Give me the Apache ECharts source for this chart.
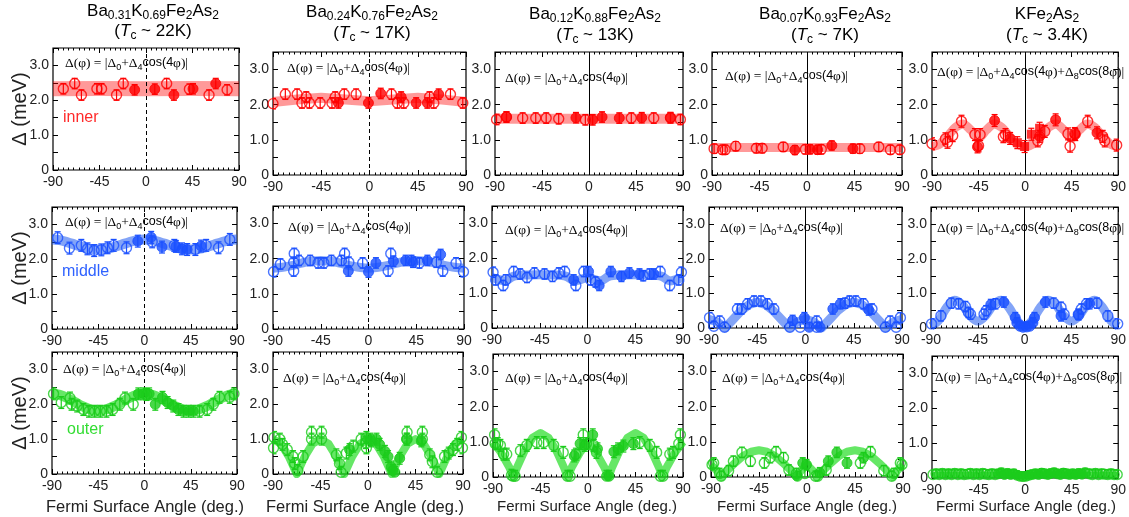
<!DOCTYPE html>
<html>
<head>
<meta charset="utf-8">
<script src="https://cdn.jsdelivr.net/npm/echarts@6/dist/echarts.min.js"></script>
<style>
  html, body { margin: 0; padding: 0; background: #fff; }
  #chart { width: 1129px; height: 517px; }
</style>
</head>
<body>
<div id="chart"></div>
<script>
// tick labels
const ANGLE_TICKS = [-90, -45, 0, 45, 90];
const GAP_LABELS = [0, 1.0, 2.0, 3.0];

// column headers
const TITLE_SUBS = [['0.31', '0.69'], ['0.24', '0.76'], ['0.12', '0.88'], ['0.07', '0.93'], null];
const TC = ['22K', '17K', '13K', '7K', '3.4K'];
const ROWS = ['inner', 'middle', 'outer'];

// ---- inner (red) ----
const p11Open = [[-80, 2.33], [-69, 2.48], [-62.5, 2.15], [-47.5, 2.33], [-43, 2.33], [-28.5, 2.15], [-22, 2.48], [20, 2.48], [42, 2.32], [61, 2.15], [78.5, 2.3]];
const p11Fill = [[-11, 2.3], [8.5, 2.32], [27, 2.15], [45.5, 2.33], [67.5, 2.48]];
const p11Fit = [[-90, 2.33], [-45, 2.34], [0, 2.33], [45, 2.34], [90, 2.33]];

const p12Open = [[-90, 2.03], [-78.5, 2.3], [-67.5, 2.3], [-63, 2.05], [-59, 2.22], [-56, 2.05], [-46, 2.05], [-35, 2.05], [-32, 2.22], [-23.5, 2.3], [-12.5, 2.3], [20.5, 2.3], [26, 2.05], [32, 2.05], [56, 2.22], [60, 2.05], [75.5, 2.3], [87, 2.05]];
const p12Fill = [[-29, 2.05], [-1, 2.05], [10.5, 2.32], [29.5, 2.22], [43.5, 2.05], [54, 2.05], [64.5, 2.3]];
const p12Fit = [[-90, 2.08], [-67.5, 2.15], [-45, 2.2], [-22.5, 2.15], [0, 2.1], [22.5, 2.15], [45, 2.2], [67.5, 2.15], [90, 2.08]];

const p13Open = [[-88.5, 1.58], [-79, 1.65], [-63.5, 1.62], [-51, 1.62], [-41, 1.62], [-29, 1.6], [-3.5, 1.57], [40.5, 1.62], [62, 1.62], [78, 1.63], [87.5, 1.58]];
const p13Fill = [[-79, 1.65], [-12.5, 1.63], [3.5, 1.57], [12.5, 1.65], [29, 1.62], [50.5, 1.63], [78, 1.63]];
const p13Fit = [[-90, 1.6], [0, 1.6], [90, 1.6]];

const p14Open = [[-88, 0.75], [-80, 0.72], [-77.5, 0.72], [-67.5, 0.82], [-48, 0.76], [-42.5, 0.76], [-22.5, 0.8], [-1.5, 0.73], [13.5, 0.73], [50, 0.75], [68, 0.8], [79, 0.72], [88, 0.72]];
const p14Fill = [[-11.5, 0.71], [3, 0.73], [10, 0.72], [23.5, 0.84], [43.5, 0.75]];
const p14Fit = [[-90, 0.78], [0, 0.78], [90, 0.78]];

const p15Open = [[-90, 0.89], [-77, 1.03], [-75, 0.93], [-70, 1.12], [-61.5, 1.53], [-48.5, 1.15], [-45, 0.83], [-43.5, 1.15], [-21, 1.09], [-19, 1.15], [12.3, 0.97], [19, 1.24], [41.5, 1.17], [43.5, 0.82], [48, 1.18], [60.5, 1.53], [75, 1.1], [77, 0.97], [88.5, 0.85]];
const p15Fill = [[-46, 0.8], [-29.5, 1.55], [-14.5, 1.04], [14, 1.1], [29.5, 1.57], [48.5, 1.15], [69.5, 1.2]];
const p15Square = [[-7.5, 0.92], [-0.5, 0.81], [6, 1.16], [14, 1.33]];
const p15Fit = [[-90, 0.8], [-82.5, 0.88], [-75, 1.1], [-67.5, 1.35], [-60, 1.45], [-52.5, 1.28], [-45, 1.05], [-37.5, 1.28], [-30, 1.45], [-22.5, 1.35], [-15, 1.1], [-7.5, 0.88], [0, 0.8], [7.5, 0.88], [15, 1.1], [22.5, 1.35], [30, 1.45], [37.5, 1.28], [45, 1.05], [52.5, 1.28], [60, 1.45], [67.5, 1.35], [75, 1.1], [82.5, 0.88], [90, 0.8]];

// ---- middle (blue) ----
const p21Open = [[-84.5, 2.62], [-73, 2.32], [-61.5, 2.4], [-55.5, 2.3], [-49, 2.25], [-42, 2.27], [-36, 2.33], [-30, 2.4], [-17.5, 2.33], [7.5, 2.5], [29, 2.4], [49.5, 2.28], [60, 2.4], [72, 2.33], [83, 2.57]];
const p21Fill = [[-6.5, 2.52], [6.5, 2.63], [17, 2.35], [30.5, 2.37], [36.5, 2.3], [41.5, 2.28], [55, 2.38]];
const p21Fit = [[-90, 2.57], [-82.5, 2.55], [-75, 2.49], [-67.5, 2.42], [-60, 2.35], [-52.5, 2.3], [-45, 2.28], [-37.5, 2.3], [-30, 2.35], [-22.5, 2.42], [-15, 2.49], [-7.5, 2.55], [0, 2.57], [7.5, 2.55], [15, 2.49], [22.5, 2.42], [30, 2.35], [37.5, 2.3], [45, 2.28], [52.5, 2.3], [60, 2.35], [67.5, 2.42], [75, 2.49], [82.5, 2.55], [90, 2.57]];

const p22Open = [[-89.5, 1.63], [-83, 1.85], [-70.5, 1.65], [-70.5, 1.9], [-70, 2.15], [-65.5, 1.95], [-55, 1.95], [-47.5, 1.88], [-42, 1.88], [-35, 1.95], [-25.5, 1.95], [-22.5, 2.15], [-18.5, 1.9], [-5.5, 1.88], [18.5, 1.65], [21, 2.15], [40.5, 1.95], [48, 1.88], [64, 1.9], [70, 1.65], [82.5, 1.88], [89.5, 1.63]];
const p22Fill = [[-19, 1.65], [0, 1.62], [7, 1.88], [23.5, 1.93], [35, 1.95], [42, 1.9], [55.5, 1.95], [68, 2.12]];
const p22Fit = [[-90, 1.73], [-82.5, 1.75], [-75, 1.79], [-67.5, 1.84], [-60, 1.9], [-52.5, 1.93], [-45, 1.95], [-37.5, 1.93], [-30, 1.9], [-22.5, 1.84], [-15, 1.79], [-7.5, 1.75], [0, 1.73], [7.5, 1.75], [15, 1.79], [22.5, 1.84], [30, 1.9], [37.5, 1.93], [45, 1.95], [52.5, 1.93], [60, 1.9], [67.5, 1.84], [75, 1.79], [82.5, 1.75], [90, 1.73]];

const p23Open = [[-89, 1.6], [-86.5, 1.38], [-79.5, 1.22], [-77, 1.38], [-69.5, 1.62], [-63.5, 1.55], [-57, 1.45], [-50, 1.58], [-40.5, 1.55], [-33, 1.48], [-27, 1.58], [-21.5, 1.62], [-11, 1.22], [-3.5, 1.62], [3, 1.38], [7.5, 1.32], [52.5, 1.5], [58.5, 1.55], [68.5, 1.62], [77.5, 1.22], [86, 1.38], [88.5, 1.6]];
const p23Fill = [[-13, 1.38], [1, 1.62], [11, 1.22], [22, 1.62], [32, 1.48], [39.5, 1.58], [49, 1.55], [62.5, 1.55]];
const p23Fit = [[-90, 1.45], [-82.5, 1.38], [-77.5, 1.35], [-70, 1.48], [-60, 1.52], [-45, 1.53], [-30, 1.52], [-20, 1.48], [-12.5, 1.35], [-7.5, 1.38], [0, 1.45], [7.5, 1.38], [12.5, 1.35], [20, 1.48], [30, 1.52], [45, 1.53], [60, 1.52], [70, 1.48], [77.5, 1.35], [82.5, 1.38], [90, 1.45]];

const p24Open = [[-89.5, 0.3], [-85.5, 0.05], [-80, 0.2], [-75.5, 0.02], [-63.5, 0.55], [-59.5, 0.55], [-54, 0.7], [-48, 0.78], [-41.5, 0.78], [-35.5, 0.7], [-29.5, 0.55], [-14.5, 0.02], [-5, 0.02], [10.5, 0.2], [10.5, 0.02], [37, 0.72], [41, 0.78], [47, 0.78], [54, 0.7], [62, 0.55], [74.5, 0.02], [79, 0.2], [84.5, 0.02], [88.5, 0.3]];
const p24Fill = [[-12, 0.22], [-1, 0.3], [3.5, 0.02], [13.5, 0.02], [25.5, 0.55], [32.5, 0.7], [59, 0.52]];
const p24Fit = [[-90, 0.25], [-82.5, 0.18], [-75, 0], [-67.5, 0.25], [-60, 0.5], [-52.5, 0.68], [-45, 0.75], [-37.5, 0.68], [-30, 0.5], [-22.5, 0.25], [-15, 0], [-7.5, 0.18], [0, 0.25], [7.5, 0.18], [15, 0], [22.5, 0.25], [30, 0.5], [37.5, 0.68], [45, 0.75], [52.5, 0.68], [60, 0.5], [67.5, 0.25], [75, 0], [82.5, 0.18], [90, 0.25]];

const p25Open = [[-89.5, 0.12], [-80.5, 0.35], [-70.5, 0.72], [-63.5, 0.7], [-57, 0.62], [-54, 0.45], [-52, 0.4], [-39, 0.4], [-37, 0.5], [-28, 0.7], [28, 0.72], [35, 0.6], [38, 0.4], [52, 0.38], [54.5, 0.55], [59.5, 0.7], [69.5, 0.72], [80, 0.35], [89.5, 0.12]];
const p25Fill = [[-32.5, 0.68], [-20, 0.75], [-9, 0.3], [-7.5, 0.15], [-4.5, 0.05], [-1.5, 0.02], [2, 0.03], [5, 0.05], [8, 0.15], [9.5, 0.3], [20, 0.75], [35, 0.35], [51.5, 0.4], [62.5, 0.7]];
const p25Fit = [[-90, 0.05], [-82.5, 0.23], [-75, 0.59], [-67.5, 0.8], [-60, 0.67], [-52.5, 0.36], [-45, 0.2], [-37.5, 0.36], [-30, 0.67], [-22.5, 0.8], [-15, 0.59], [-7.5, 0.23], [0, 0.05], [7.5, 0.23], [15, 0.59], [22.5, 0.8], [30, 0.67], [37.5, 0.36], [45, 0.2], [52.5, 0.36], [60, 0.67], [67.5, 0.8], [75, 0.59], [82.5, 0.23], [90, 0.05]];

// ---- outer (green) ----
const p31Open = [[-88.5, 2.3], [-81, 2.05], [-72.5, 2.18], [-71, 2.0], [-65.5, 1.95], [-59.5, 1.85], [-54, 1.8], [-48.5, 1.8], [-43, 1.8], [-37, 1.8], [-31, 1.85], [-24, 2.0], [-19, 2.18], [-11, 2.0], [2, 2.28], [53.5, 1.8], [61, 1.85], [67, 2.0], [73, 2.2], [83, 2.2], [87, 2.3]];
const p31Fill = [[-6, 2.3], [-1, 2.3], [4.5, 2.3], [10.5, 2.0], [17.5, 2.2], [22.5, 2.05], [28, 1.95], [33, 1.85], [38, 1.8], [43, 1.8], [47.5, 1.8]];
const p31Fit = [[-90, 2.3], [-82.5, 2.27], [-75, 2.18], [-67.5, 2.06], [-60, 1.94], [-52.5, 1.85], [-45, 1.82], [-37.5, 1.85], [-30, 1.94], [-22.5, 2.06], [-15, 2.18], [-7.5, 2.27], [0, 2.3], [7.5, 2.27], [15, 2.18], [22.5, 2.06], [30, 1.94], [37.5, 1.85], [45, 1.82], [52.5, 1.85], [60, 1.94], [67.5, 2.06], [75, 2.18], [82.5, 2.27], [90, 2.3]];

const p32Open = [[-89.5, 0.75], [-89, 1.05], [-83.5, 1.0], [-81, 0.85], [-76.5, 0.7], [-71, 0.5], [-69.5, 0.3], [-66.5, 0.1], [-61.5, 0.5], [-53.5, 1.2], [-53.5, 1.0], [-44, 1.2], [-44, 1.0], [-30, 0.55], [-27, 0.3], [-25.5, 0.05], [-20.5, 0.6], [-14, 0.8], [-6.5, 1.0], [-2, 0.9], [-1.5, 0.75], [2, 1.0], [37, 1.2], [37, 1.0], [51.5, 1.2], [51.5, 1.0], [58.5, 0.55], [61, 0.35], [65.5, 0.05], [72.5, 0.5], [76.5, 0.6], [80.5, 0.7], [84.5, 0.85], [88.5, 1.05], [89.5, 0.75]];
const p32Fill = [[-17.5, 0.7], [-1.5, 1.05], [3, 0.95], [8, 1.0], [11, 0.85], [16, 0.65], [19, 0.5], [22, 0.2], [23.5, 0.1], [25.5, 0.05], [30, 0.45], [36.5, 1.0], [50.5, 0.95]];
const p32Fit = [[-90, 1.0], [-82.5, 0.87], [-75, 0.5], [-67.5, 0], [-60, 0.5], [-52.5, 0.87], [-45, 1.0], [-37.5, 0.87], [-30, 0.5], [-22.5, 0], [-15, 0.5], [-7.5, 0.87], [0, 1.0], [7.5, 0.87], [15, 0.5], [22.5, 0], [30, 0.5], [37.5, 0.87], [45, 1.0], [52.5, 0.87], [60, 0.5], [67.5, 0], [75, 0.5], [82.5, 0.87], [90, 1.0]];

const p33Open = [[-88.5, 1.2], [-88, 0.95], [-85.5, 0.95], [-83, 0.9], [-80, 0.65], [-77, 0.65], [-72.5, 0.05], [-71, 0.02], [-69, 0.02], [-64, 0.75], [-58, 0.9], [-48.5, 0.98], [-42, 0.98], [-32.5, 0.9], [-23.5, 0.7], [-19.5, 0.02], [-17, 0.02], [-11.5, 0.65], [-4.5, 1.2], [-1.5, 0.95], [5.5, 0.9], [8, 0.7], [49, 0.98], [58.5, 0.9], [65, 0.7], [68.5, 0.02], [71, 0.02], [77.5, 0.65], [80.5, 0.7], [86, 0.95], [87.5, 1.2]];
const p33Fill = [[-13, 0.6], [-7.5, 0.95], [-3, 0.9], [4.5, 1.2], [9, 0.8], [17.5, 0.02], [20, 0.02], [24.5, 0.72], [28.5, 0.8], [33.5, 0.88], [43, 0.95]];
const p33Fit = [[-90, 1.0], [-82.5, 0.7], [-75, 0.3], [-70.5, 0], [-67.5, 0.25], [-60, 0.75], [-52.5, 1.12], [-45, 1.25], [-37.5, 1.12], [-30, 0.75], [-22.5, 0.25], [-19.5, 0], [-15, 0.3], [-7.5, 0.7], [0, 1.0], [7.5, 0.7], [15, 0.3], [19.5, 0], [22.5, 0.25], [30, 0.75], [37.5, 1.12], [45, 1.25], [52.5, 1.12], [60, 0.75], [67.5, 0.25], [70.5, 0], [75, 0.3], [82.5, 0.7], [90, 1.0]];

const p34Open = [[-89, 0.35], [-87.5, 0.4], [-82, 0.1], [-80.5, 0.02], [-73.5, 0.18], [-69, 0.45], [-61, 0.7], [-53, 0.45], [-40, 0.4], [-34.5, 0.55], [-29, 0.72], [-22, 0.55], [-17, 0.2], [-10, 0.1], [-2, 0.1], [8, 0.02], [10, 0.02], [18, 0.2], [50, 0.4], [59.5, 0.72], [72, 0.18], [79.5, 0.02], [81.5, 0.1], [87.5, 0.4], [89, 0.35]];
const p34Fill = [[-9, 0.02], [-4, 0.4], [-0.5, 0.35], [12, 0.12], [20, 0.45], [28, 0.7], [37.5, 0.4], [53, 0.55]];
const p34Fit = [[-90, 0.35], [-82.5, 0.12], [-80, 0], [-75, 0.18], [-67.5, 0.4], [-60, 0.6], [-52.5, 0.72], [-45, 0.76], [-37.5, 0.72], [-30, 0.6], [-22.5, 0.4], [-15, 0.18], [-10, 0], [-7.5, 0.12], [0, 0.35], [7.5, 0.12], [10, 0], [15, 0.18], [22.5, 0.4], [30, 0.6], [37.5, 0.72], [45, 0.76], [52.5, 0.72], [60, 0.6], [67.5, 0.4], [75, 0.18], [80, 0], [82.5, 0.12], [90, 0.35]];

const p35Open = [[-89, 0.1], [-86, 0.12], [-83, 0.1], [-80, 0.13], [-77, 0.1], [-74, 0.12], [-71, 0.1], [-68, 0.13], [-65, 0.1], [-62, 0.12], [-59, 0.1], [-56, 0.11], [-53, 0.13], [-50, 0.1], [-47, 0.12], [-44, 0.1], [-41, 0.13], [-38, 0.11], [-35, 0.1], [-32, 0.12], [-29, 0.1], [62, 0.12], [65, 0.1], [68, 0.13], [71, 0.1], [74, 0.12], [77, 0.11], [80, 0.1], [83, 0.12], [86, 0.1], [89, 0.1]];
const p35Fill = [[-26, 0.12], [-23, 0.15], [-20, 0.1], [-17, 0.13], [-14, 0.1], [-11, 0.12], [-8, 0.08], [-5, 0.05], [-2, 0.04], [1, 0.05], [4, 0.08], [7, 0.1], [10, 0.12], [13, 0.1], [16, 0.14], [19, 0.12], [22, 0.1], [25, 0.13], [28, 0.15], [31, 0.12], [34, 0.1], [37, 0.14], [40, 0.12], [43, 0.1], [46, 0.12], [49, 0.1], [52, 0.13], [55, 0.11], [58, 0.15]];
const p35Fit = [[-90, 0.1], [0, 0.1], [90, 0.1]];

const ERR = [0.15, 0.15, 0.15, 0.13, 0.17, 0.17, 0.15, 0.15, 0.15, 0.15, 0.17, 0.17, 0.17, 0.15, 0.13];

const PANELS = [
  [p11Open, p11Fill, p11Fit, []], [p12Open, p12Fill, p12Fit, []], [p13Open, p13Fill, p13Fit, []], [p14Open, p14Fill, p14Fit, []], [p15Open, p15Fill, p15Fit, p15Square],
  [p21Open, p21Fill, p21Fit, []], [p22Open, p22Fill, p22Fit, []], [p23Open, p23Fill, p23Fit, []], [p24Open, p24Fill, p24Fit, []], [p25Open, p25Fill, p25Fit, []],
  [p31Open, p31Fill, p31Fit, []], [p32Open, p32Fill, p32Fit, []], [p33Open, p33Fill, p33Fit, []], [p34Open, p34Fill, p34Fit, []], [p35Open, p35Fill, p35Fit, []]
];

// layout: left, top, width, height of each plot box
const LAYOUT = [
  [53, 48, 186, 122], [273, 52, 193, 123], [495, 52, 188, 123], [712, 52, 190, 123], [932, 52, 190, 123],
  [52, 207, 185, 122], [273, 206, 191, 123], [492, 206, 191, 122], [709, 207, 193, 121], [931, 207, 191, 121],
  [52, 352, 185, 122], [273, 352, 190, 122], [493, 354, 190, 123], [711, 354, 192, 123], [932, 356, 190, 122]
];
const FORMULA_POS = [
  [65, 63], [287, 68], [505, 78], [725, 76], [937, 72],
  [65, 222], [288, 227], [505, 230], [720, 228], [937, 228],
  [63, 369], [283, 378], [505, 378], [722, 378], [935, 377]
];
const BAND_W = [15, 10, 10, 9, 9, 10, 9, 9, 9, 9, 10, 8, 8, 8, 5];
const SMOOTH = [0, 0, 0, 0, 0.3, 0.3, 0.3, 0.2, 0, 0.3, 0.3, 0, 0, 0, 0];

const MARK = ['#ff0000', '#1a50ff', '#1ccc1c'];
const BAND = ['rgba(255,0,0,0.4)', 'rgba(30,90,240,0.55)', 'rgba(0,215,0,0.6)'];
const LABEL_C = ['#ff2a2a', '#2f62ff', '#33dd33'];

const SANS = 'Liberation Sans';
const SERIF = 'Liberation Serif';

const TITLE_RICH = {
  m: {fontFamily: SANS, fontSize: 17, color: '#222', lineHeight: 22},
  i: {fontFamily: SANS, fontSize: 17, fontStyle: 'italic', color: '#222', lineHeight: 22},
  s: {fontFamily: SANS, fontSize: 12, color: '#222', lineHeight: 11, verticalAlign: 'bottom'}
};
const FORM_RICH = {
  f: {fontFamily: SERIF, fontSize: 13.5, color: '#222', lineHeight: 18},
  g: {fontFamily: SANS, fontSize: 12.5, color: '#222', lineHeight: 18},
  b: {fontFamily: SANS, fontSize: 9, color: '#222', lineHeight: 10, verticalAlign: 'bottom'}
};
const F4 = '{f|Δ(φ) = |Δ}{b|0}{f|+Δ}{b|4}{g|cos(4}{f|φ)|}';
const F8 = '{f|Δ(φ) = |Δ}{b|0}{f|+Δ}{b|4}{g|cos(4}{f|φ)+Δ}{b|8}{g|cos(8}{f|φ)|}';

function errBars(color) {
  return function (params, api) {
    const x = api.value(0), y = api.value(1), e = api.value(2);
    const hi = api.coord([x, y + e]);
    const lo = api.coord([x, Math.max(0, y - e)]);
    const st = {stroke: color, lineWidth: 1.2};
    return {
      type: 'group',
      children: [
        {type: 'line', shape: {x1: hi[0], y1: hi[1], x2: lo[0], y2: lo[1]}, style: st},
        {type: 'line', shape: {x1: hi[0] - 3, y1: hi[1], x2: hi[0] + 3, y2: hi[1]}, style: st},
        {type: 'line', shape: {x1: lo[0] - 3, y1: lo[1], x2: lo[0] + 3, y2: lo[1]}, style: st}
      ]
    };
  };
}

const tick = {show: true, inside: true, length: 5, lineStyle: {color: '#000', width: 1}};
const minor = {show: true, splitNumber: 9, length: 2.5, lineStyle: {color: '#000', width: 1}};
const noLine = {show: false, onZero: false};
const grids = [], xAxes = [], yAxes = [], series = [], graphic = [];

PANELS.forEach(function (pn, k) {
  const r = Math.floor(k / 5), c = k % 5;
  const L = LAYOUT[k];
  grids.push({left: L[0], top: L[1], width: L[2], height: L[3], show: true,
    borderColor: '#000', borderWidth: 1.2, backgroundColor: 'transparent'});

  xAxes.push({gridIndex: k, type: 'value', min: ANGLE_TICKS[0], max: ANGLE_TICKS[4], interval: 45,
    position: 'bottom', axisLine: noLine, axisTick: tick, minorTick: minor,
    splitLine: {show: false}, minorSplitLine: {show: false},
    axisLabel: {color: '#222', fontFamily: SANS, fontSize: 14, margin: 5}});
  xAxes.push({gridIndex: k, type: 'value', min: -90, max: 90, interval: 45, position: 'top',
    axisLine: noLine, axisTick: tick, minorTick: minor, splitLine: {show: false},
    axisLabel: {show: false}});
  yAxes.push({gridIndex: k, type: 'value', min: 0, max: 3.5, interval: 0.5, position: 'left',
    axisLine: noLine, axisTick: tick, splitLine: {show: false},
    axisLabel: {color: '#222', fontFamily: SANS, fontSize: 14, margin: 4,
      formatter: function (v) { return GAP_LABELS.indexOf(v) < 0 ? '' : (v === 0 ? '0' : v.toFixed(1)); }}});
  yAxes.push({gridIndex: k, type: 'value', min: 0, max: 3.5, interval: 0.5, position: 'right',
    axisLine: noLine, axisTick: tick, splitLine: {show: false}, axisLabel: {show: false}});

  const xi = 2 * k, yi = 2 * k;
  const open = pn[0], fill = pn[1], fit = pn[2], sq = pn[3];
  series.push({
    type: 'line', xAxisIndex: xi, yAxisIndex: yi, data: fit, showSymbol: false, symbol: 'none',
    smooth: SMOOTH[k], silent: true, z: 1,
    lineStyle: {color: BAND[r], width: BAND_W[k], cap: 'butt', join: 'round'},
    markLine: {silent: true, symbol: ['none', 'none'], label: {show: false}, z: 2,
      lineStyle: {color: '#000', width: 1, type: c < 2 ? [4, 3] : 'solid'},
      data: [{xAxis: 0}]}
  });
  const all = open.concat(fill, sq).map(function (p) { return [p[0], p[1], ERR[k]]; });
  series.push({
    type: 'custom', xAxisIndex: xi, yAxisIndex: yi, data: all, renderItem: errBars(MARK[r]),
    encode: {x: 0, y: 1}, clip: true, silent: true, z: 3
  });
  series.push({
    type: 'scatter', xAxisIndex: xi, yAxisIndex: yi, data: open, symbol: 'circle', symbolSize: 10,
    silent: true, z: 4, itemStyle: {color: 'rgba(255,255,255,0)', borderColor: MARK[r], borderWidth: 1.4}
  });
  series.push({
    type: 'scatter', xAxisIndex: xi, yAxisIndex: yi, data: fill, symbol: 'circle', symbolSize: 10,
    silent: true, z: 5, itemStyle: {color: MARK[r], borderColor: MARK[r], borderWidth: 1}
  });
  if (sq.length) {
    series.push({
      type: 'scatter', xAxisIndex: xi, yAxisIndex: yi, data: sq, symbol: 'rect', symbolSize: 9,
      silent: true, z: 5, itemStyle: {color: MARK[r]}
    });
  }

  graphic.push({type: 'text', x: FORMULA_POS[k][0], y: FORMULA_POS[k][1], z: 10,
    style: {text: c === 4 ? F8 : F4, rich: FORM_RICH, align: 'left', verticalAlign: 'middle'}});
});

// column headers
const TITLE_X = [153, 372, 595, 825, 1047];
const TITLE_Y = [[11, 31], [12, 33], [14, 35], [14, 35], [14, 35]];
for (let c = 0; c < 5; c++) {
  const sub = TITLE_SUBS[c];
  const line1 = sub
    ? '{m|Ba}{s|' + sub[0] + '}{m|K}{s|' + sub[1] + '}{m|Fe}{s|2}{m|As}{s|2}'
    : '{m|KFe}{s|2}{m|As}{s|2}';
  const line2 = '{m|(}{i|T}{s|c}{m| ~ ' + TC[c] + ')}';
  graphic.push({type: 'text', x: TITLE_X[c], y: TITLE_Y[c][0],
    style: {text: line1, rich: TITLE_RICH, align: 'center', verticalAlign: 'middle'}});
  graphic.push({type: 'text', x: TITLE_X[c], y: TITLE_Y[c][1],
    style: {text: line2, rich: TITLE_RICH, align: 'center', verticalAlign: 'middle'}});
}

// row labels and y names
const ROW_LABEL_POS = [[63, 118], [62, 272], [67, 430]];
const YNAME_Y = [109, 268, 413];
for (let r = 0; r < 3; r++) {
  graphic.push({type: 'text', x: ROW_LABEL_POS[r][0], y: ROW_LABEL_POS[r][1],
    style: {text: ROWS[r], fill: LABEL_C[r], font: '16px "Liberation Sans"', align: 'left', verticalAlign: 'middle'}});
  graphic.push({type: 'text', x: 20, y: YNAME_Y[r], rotation: Math.PI / 2,
    style: {text: 'Δ (meV)', fill: '#222', font: '20px "Liberation Sans"', align: 'center', verticalAlign: 'middle'}});
}

// x names under the bottom row
const XNAME_X = [145, 365, 587, 807, 1026];
for (let c = 0; c < 5; c++) {
  graphic.push({type: 'text', x: XNAME_X[c], y: 507,
    style: {text: 'Fermi Surface Angle (deg.)', fill: '#222',
      font: (c < 2 ? 16.5 : 15) + 'px "Liberation Sans"', align: 'center', verticalAlign: 'middle'}});
}

const chart = echarts.init(document.getElementById('chart'));
chart.setOption({
  animation: false,
  backgroundColor: '#fff',
  grid: grids,
  xAxis: xAxes,
  yAxis: yAxes,
  series: series,
  graphic: graphic
});
</script>
</body>
</html>
